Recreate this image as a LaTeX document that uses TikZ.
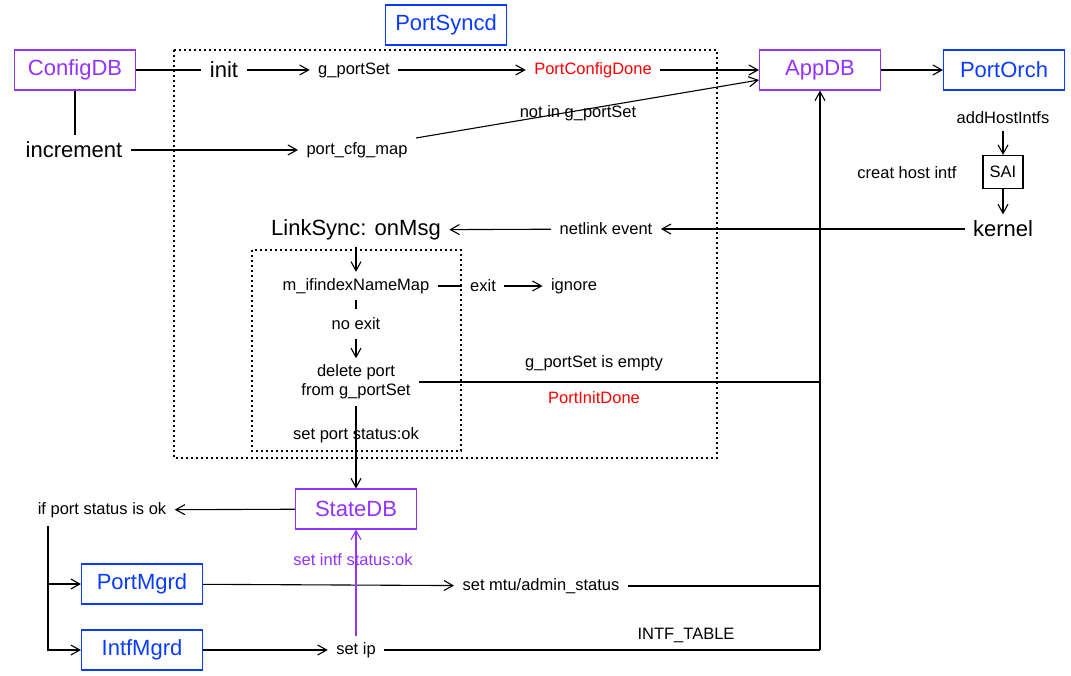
\documentclass[tikz,border=0pt]{standalone}
\usepackage{fontspec}
\setmainfont{Liberation Sans}
\usepackage{tikz}
\usetikzlibrary{arrows.meta}
\definecolor{dbpurple}{HTML}{9333FF}
\definecolor{procblue}{HTML}{0A3CFF}
\definecolor{signalred}{HTML}{FF0000}
\tikzstyle{dbnode} = [rectangle, 
minimum width=121pt, 
minimum height=40pt, 
text centered, 
draw=dbpurple, 
text=dbpurple, 
font=\fontsize{22}{26}\selectfont, 
fill=white]
\tikzstyle{procnode} = [rectangle, 
minimum width=121pt, 
minimum height=40pt, 
text centered, 
draw=procblue, 
text=procblue, 
font=\fontsize{22}{26}\selectfont, 
fill=white]
\tikzstyle{saibox} = [rectangle, minimum width=40pt, minimum height=33pt, draw=black, font=\fontsize{16.5}{19}\selectfont]
\tikzstyle{lbl} = [inner xsep=8pt, inner ysep=6pt, align=center, font=\fontsize{16.5}{19}\selectfont]
\tikzstyle{biglbl} = [inner xsep=8pt, inner ysep=6pt, font=\fontsize{22}{26}\selectfont]
\tikzstyle{arrow} = [-{Straight Barb[length=9pt,width=10pt]}]
\tikzstyle{dottedbox} = [line width=1.3pt, dash pattern=on 1.6pt off 3.4pt]

\begin{document}
\begin{tikzpicture}[x=1pt, y=-1pt, line width=1.1pt]
    \useasboundingbox (0,0) rectangle (1071,676);

    % Dotted frames of PortSyncd and onMsg
    \draw [dottedbox] (174,50) rectangle (717,458);
    \draw [dottedbox] (252,250) rectangle (461,451);

    % Databases and daemons
    \node (portsyncd) [procnode] at (446,25) {PortSyncd};
    \node (configdb) [dbnode] at (75,70) {ConfigDB};
    \node (appdb) [dbnode] at (820,70) {AppDB};
    \node (portorch) [procnode] at (1004,70) {PortOrch};
    \node (statedb) [dbnode] at (356,509) {StateDB};
    \node (portmgrd) [procnode] at (142,584) {PortMgrd};
    \node (intfmgrd) [procnode] at (142,650) {IntfMgrd};
    \node (sai) [saibox] at (1003,172) {SAI};

    % Texts along the flow
    \node (init) [biglbl] at (224,70) {init};
    \node (gportset) [lbl] at (354,70) {g\_portSet};
    \node (cfgdone) [lbl, text=signalred] at (593,70) {PortConfigDone};
    \node (increment) [biglbl] at (74,150) {increment};
    \node (cfgmap) [lbl] at (357,150) {port\_cfg\_map};
    \node (notin) [lbl] at (578,113) {not in g\_portSet};
    \node (addhost) [lbl] at (1003,118) {addHostIntfs};
    \node (creathost) [lbl] at (907,173) {creat host intf};
    \node (kernel) [biglbl] at (1003,229) {kernel};
    \node (netlink) [lbl] at (606,229) {netlink event};
    \node (linksync) [biglbl] at (356,230) {LinkSync: onMsg};
    \node (mifmap) [lbl] at (356,286) {m\_ifindexNameMap};
    \node (exitlbl) [lbl] at (483,286) {exit};
    \node (ignore) [lbl] at (574,286) {ignore};
    \node (noexit) [lbl, inner ysep=8pt] at (356,324) {no exit};
    \node (delport) [lbl] at (356,382) {delete port\\from g\_portSet};
    \node (empty) [lbl] at (594,363) {g\_portSet is empty};
    \node (initdone) [lbl, text=signalred] at (594,398) {PortInitDone};
    \node (statusok) [lbl] at (356,435) {set port status:ok};
    \node (ifok) [lbl] at (102,510) {if port status is ok};
    \node (setintf) [lbl, text=dbpurple] at (353,560) {set intf status:ok};
    \node (setmtu) [lbl] at (541,586) {set mtu/admin\_status};
    \node (setip) [lbl] at (356,650) {set ip};
    \node (intftable) [lbl] at (686,635) {INTF\_TABLE};
    \coordinate (bus) at (820,650);
    \coordinate (split) at (48,526);

    % Config path
    \draw (configdb) -- (init);
    \draw [arrow] (init) -- (gportset);
    \draw [arrow] (gportset) -- (cfgdone);
    \draw [arrow] (cfgdone) -- (appdb);
    \draw (configdb.south) -- (configdb.south |- increment.north);
    \draw [arrow] (increment) -- (cfgmap);
    \draw [arrow] ([yshift=12pt]cfgmap.east) -- ([yshift=-10pt]appdb.west);
    \draw [arrow] (appdb) -- (portorch);

    % Host interface path
    \draw [arrow] (addhost) -- (sai);
    \draw [arrow] (sai) -- (kernel);
    \draw [arrow] (kernel) -- (netlink);
    \draw [arrow] (netlink) -- (linksync);

    % onMsg
    \draw [arrow] (linksync) -- (mifmap);
    \draw (mifmap) -- (exitlbl);
    \draw [arrow] (exitlbl) -- (ignore);
    \draw (mifmap) -- (noexit);
    \draw [arrow] (noexit) -- (delport);
    \draw [arrow] (delport) -- (statedb);

    % Lines into AppDB
    \draw (delport.east) -- (delport.east -| bus);
    \draw (setmtu.east) -- (setmtu.east -| bus);
    \draw (setip.east) -- (bus);
    \draw [arrow] (bus) -- (appdb.south);

    % StateDB and managers
    \draw [arrow] (statedb) -- (ifok);
    \draw [arrow] (split) |- (intfmgrd.west);
    \draw [arrow] (split |- portmgrd.west) -- (portmgrd.west);
    \draw [arrow] (portmgrd) -- (setmtu);
    \draw [arrow] (intfmgrd) -- (setip);
    \draw [arrow, dbpurple] (setip) -- (statedb);
  \end{tikzpicture}
\end{document}
